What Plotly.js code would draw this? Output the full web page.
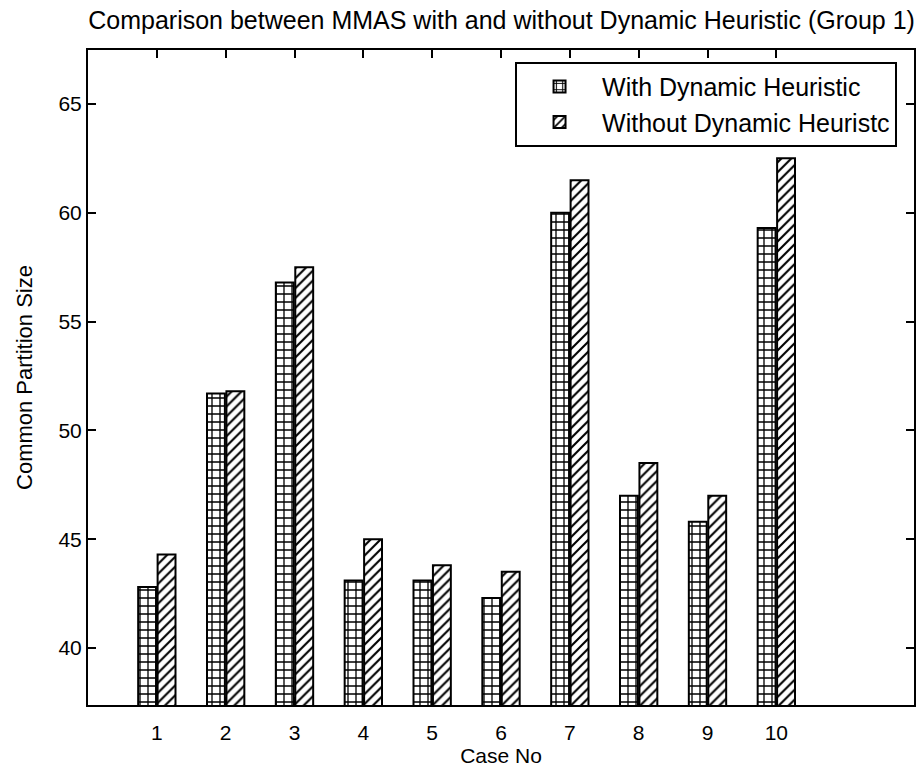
<!DOCTYPE html>
<html>
<head>
<meta charset="utf-8">
<script src="https://cdn.plot.ly/plotly-3.0.1.min.js"></script>
<style>html,body{margin:0;padding:0;background:#fff;}</style>
</head>
<body>
<div id="chart" style="width:917px;height:779px;"></div>
<script>
const cases = [1, 2, 3, 4, 5, 6, 7, 8, 9, 10];
const caseLabels = ['1', '2', '3', '4', '5', '6', '7', '8', '9', '10'];
const withDynamic = [42.8, 51.7, 56.8, 43.1, 43.1, 42.3, 60.0, 47.0, 45.8, 59.3];
const withoutDynamic = [44.3, 51.8, 57.5, 45.0, 43.8, 43.5, 61.5, 48.5, 47.0, 62.5];
const yTicks = [40, 45, 50, 55, 60, 65];

const FONT = 'Liberation Sans, Arial, sans-serif';

const traces = [
  {
    type: 'bar',
    name: 'With Dynamic Heuristic',
    x: cases,
    y: withDynamic,
    marker: {
      color: '#ffffff',
      line: {color: '#000000', width: 2},
      pattern: {shape: '+', fgcolor: '#000000', bgcolor: '#ffffff', size: 8, solidity: 0.3, fillmode: 'replace'}
    }
  },
  {
    type: 'bar',
    name: 'Without Dynamic Heuristc',
    x: cases,
    y: withoutDynamic,
    marker: {
      color: '#ffffff',
      line: {color: '#000000', width: 2},
      pattern: {shape: '/', fgcolor: '#000000', bgcolor: '#ffffff', size: 7, solidity: 0.3, fillmode: 'replace'}
    }
  }
];

const layout = {
  width: 917,
  height: 779,
  paper_bgcolor: '#ffffff',
  plot_bgcolor: '#ffffff',
  font: {family: FONT, color: '#000000', size: 20},
  margin: {l: 88, r: 3, t: 50, b: 74, pad: 0},
  title: {
    text: 'Comparison between MMAS with and without Dynamic Heuristic (Group 1)',
    font: {family: FONT, size: 25, color: '#000000'},
    x: 0.547, xanchor: 'center',
    y: 0.974, yanchor: 'middle'
  },
  barmode: 'group',
  bargap: 0.435,
  bargroupgap: 0.08,
  showlegend: true,
  legend: {
    x: 0.517, xanchor: 'left',
    y: 0.982, yanchor: 'top',
    bgcolor: '#ffffff',
    bordercolor: '#000000',
    borderwidth: 2,
    itemwidth: 75,
    font: {family: FONT, size: 25, color: '#000000'},
    tracegroupgap: 0
  },
  xaxis: {
    range: [0, 12],
    tickvals: cases,
    ticktext: caseLabels,
    ticks: 'inside',
    ticklen: 8,
    tickwidth: 2,
    tickcolor: '#000000',
    showline: true,
    linecolor: '#000000',
    linewidth: 2,
    mirror: 'ticks',
    showgrid: false,
    zeroline: false,
    ticklabelstandoff: 8,
    tickfont: {family: FONT, size: 21, color: '#000000'},
    title: {text: 'Case No', font: {family: FONT, size: 21, color: '#000000'}, standoff: 4}
  },
  yaxis: {
    range: [37.38, 67.48],
    tickvals: yTicks,
    ticks: 'inside',
    ticklen: 8,
    tickwidth: 2,
    tickcolor: '#000000',
    showline: true,
    linecolor: '#000000',
    linewidth: 2,
    mirror: 'ticks',
    showgrid: false,
    zeroline: false,
    tickfont: {family: FONT, size: 21, color: '#000000'},
    title: {text: 'Common Partition Size', font: {family: FONT, size: 22, color: '#000000'}, standoff: 20}
  }
};

Plotly.newPlot('chart', traces, layout, {displayModeBar: false, staticPlot: true});
</script>
</body>
</html>
